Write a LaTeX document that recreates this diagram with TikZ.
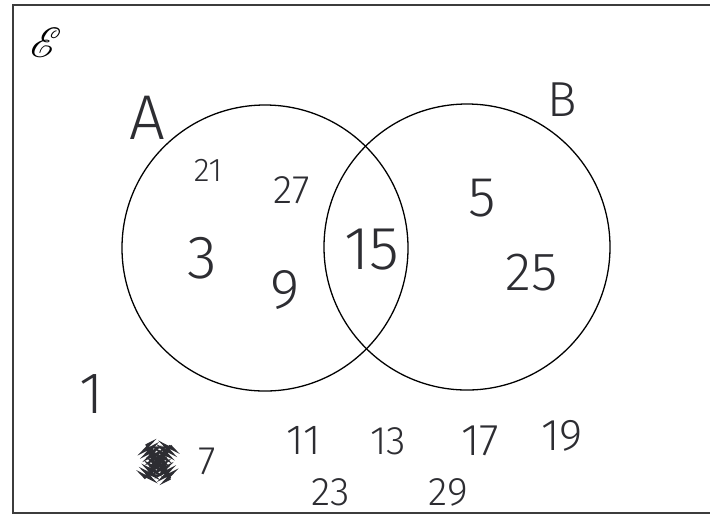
\documentclass[tikz,border=0pt]{standalone}
\usepackage{fontspec}
\usepackage{mathrsfs}
\setsansfont{Fira Sans}[UprightFont=* Light]
\usetikzlibrary{positioning, decorations.pathmorphing}
\definecolor{penink}{RGB}{45,45,50}
\definecolor{frameink}{RGB}{60,60,60}
\tikzset{
  frame/.style={draw=frameink, line width=1.5pt},
  venn/.style={circle, draw=black, line width=1.1pt,
    minimum size=8.58cm, inner sep=0pt},
  hand/.style={text=penink, inner sep=1pt, font=\sffamily\fontsize{#1}{#1}\selectfont},
  hand/.default=48,
  scribble/.style={draw=penink, line width=2pt, decorate,
    decoration={zigzag, amplitude=5pt, segment length=3.5pt}}
}

\begin{document}
\begin{tikzpicture}[x=0.03cm, y=-0.03cm]
  \useasboundingbox (0,0) rectangle (710,519);

  % universal set frame
  \coordinate (tl) at (13,5);
  \coordinate (tr) at (710,5);
  \coordinate (bl) at (13,513);
  \coordinate (br) at (710,513);
  \draw[frame] (tr) -- (tl) -- (bl) -- (br);
  \node[text=black, font=\fontsize{24}{24}\selectfont, scale=1.45] (univ) at (46,43) {$\mathscr{E}$};

  % the two sets
  \node[venn] (setA) at (265,248) {};
  \node[venn] (setB) at (467,247) {};
  \node[hand=54] (labA) at (147,118) {A};
  \node[hand=42] (labB) at (562,100) {B};

  % only in A
  \node[hand=28] (n21) at (208,170) {21};
  \node[hand=34] (n27) at (292,190) {27};
  \node[hand=52] (n3) at (202,258) {3};
  \node[hand=48] (n9) at (285,290) {9};

  % A and B
  \node[hand=52] (n15) at (372,250) {15};

  % only in B
  \node[hand=48] (n5) at (482,198) {5};
  \node[hand=46] (n25) at (532,273) {25};

  % outside both
  \node[hand=50] (n1) at (92,394) {1};
  \node[hand=38] (crossed) at (158,462) {5};
  \draw[scribble] (crossed.north west) -- (crossed.south east);
  \draw[scribble] (crossed.south west) -- (crossed.north east);
  \node[hand=34] (n7) at (207,461) {7};
  \node[hand=36] (n11) at (304,440) {11};
  \node[hand=34] (n13) at (388,441) {13};
  \node[hand=38] (n17) at (480,441) {17};
  \node[hand=38] (n19) at (562,436) {19};
  \node[hand=34] (n23) at (331,492) {23};
  \node[hand=34] (n29) at (448,492) {29};
\end{tikzpicture}
\end{document}
